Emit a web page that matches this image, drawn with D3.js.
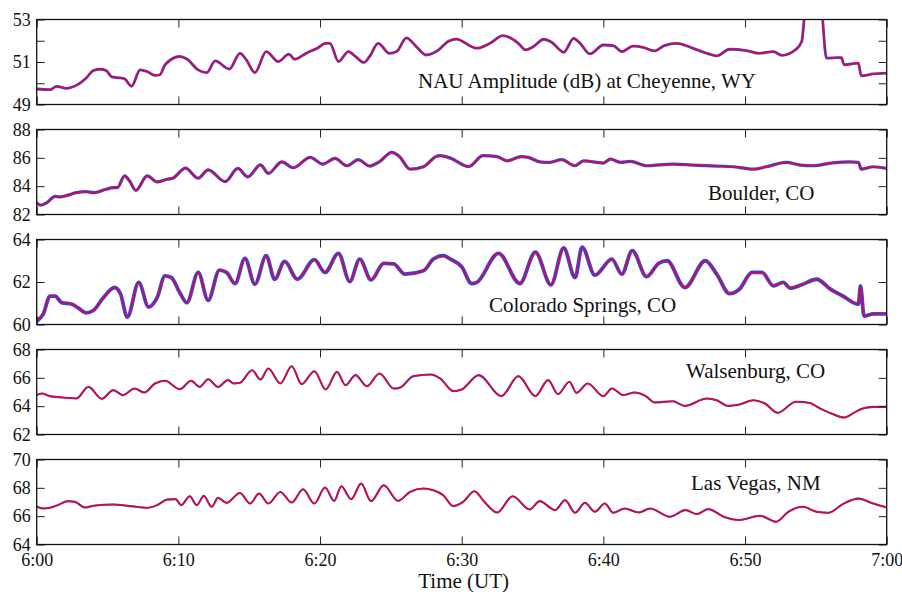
<!DOCTYPE html>
<html>
<head>
<meta charset="utf-8">
<script src="https://cdn.jsdelivr.net/npm/d3@7"></script>
<style>
  body { margin: 0; background: #ffffff; }
  svg { display: block; font-family: 'Liberation Serif', 'Times New Roman', serif; }
  .tick text { font-family: 'Liberation Serif', 'Times New Roman', serif; font-size: 18px; fill: #111; }
</style>
</head>
<body>
<div class="chart-wrapper"></div>
<script>
// minutes after 6:00 UT, amplitude in dB
const cheyenne = [[0,49.73],[0.94,49.70],[1.4,49.85],[2.1,49.76],[2.8,49.9],[3.5,50.25],[4.0,50.6],[4.5,50.66],[4.9,50.6],[5.3,50.3],[5.9,50.25],[6.2,50.21],[6.7,49.86],[7.3,50.63],[7.8,50.55],[8.35,50.37],[8.7,50.4],[9.06,50.87],[10.1,51.26],[10.6,51.14],[11.4,50.63],[12.0,50.5],[12.6,51.05],[13.6,50.67],[14.35,51.41],[14.8,51.1],[15.4,50.5],[16.2,51.49],[17.06,51.02],[17.8,51.37],[18.2,51.13],[19.1,51.44],[19.8,51.65],[20.4,51.88],[20.7,51.88],[21.3,51.02],[22.0,51.49],[22.5,51.26],[23.1,50.98],[23.5,51.26],[24.1,51.88],[24.9,51.41],[25.4,51.49],[26.1,52.14],[26.8,51.72],[27.5,51.33],[28.2,51.49],[29.1,51.99],[29.6,52.08],[31.05,51.65],[32.0,51.88],[32.9,52.24],[34.0,51.88],[34.5,51.57],[35.05,51.72],[35.8,52.07],[36.35,51.93],[37.2,51.46],[37.9,52.11],[38.35,51.88],[39.05,51.38],[40.0,51.8],[40.7,51.77],[41.3,51.49],[42.1,51.75],[42.8,51.69],[43.6,51.52],[44.3,51.77],[45.2,51.88],[46.3,51.65],[47.3,51.41],[48.0,51.29],[48.9,51.6],[50.1,51.54],[51.0,51.41],[52.0,51.49],[52.6,51.31],[53.6,51.6],[54.0,51.96],[54.35,54.0],[55.3,54.0],[55.75,51.18],[56.6,51.21],[56.8,51.2],[57.0,50.87],[58.0,50.95],[58.2,50.35],[59.05,50.44],[60,50.48]];

const boulder = [[0,82.83],[0.25,82.66],[0.7,82.83],[1.3,83.28],[1.65,83.24],[2.1,83.33],[2.8,83.54],[3.5,83.61],[4.0,83.54],[4.9,83.78],[5.4,83.9],[5.7,83.9],[6.2,84.73],[6.55,84.38],[7.0,83.7],[7.8,84.73],[8.5,84.3],[9.2,84.49],[9.6,84.56],[10.5,85.27],[11.4,84.56],[12.1,85.15],[13.3,84.32],[14.2,85.25],[14.9,84.66],[15.8,85.5],[16.35,84.9],[17.3,85.72],[18.1,85.3],[19.3,86.03],[20.2,85.56],[21.05,85.96],[21.9,85.44],[22.7,85.87],[23.5,85.42],[24.2,85.73],[25.06,86.39],[25.6,86.1],[26.35,85.2],[27.3,85.37],[28.2,86.1],[28.46,86.15],[29.2,85.98],[30.5,85.39],[31.5,86.15],[32.5,86.08],[33.2,85.79],[34.2,86.08],[34.7,86.03],[35.5,85.72],[36.2,85.68],[37.05,85.87],[38.0,85.44],[38.6,85.79],[40.0,85.63],[40.5,85.91],[41.2,85.68],[41.9,85.75],[43.05,85.44],[44.9,85.56],[46.3,85.49],[48.0,85.42],[49.2,85.37],[50.6,85.2],[51.5,85.37],[52.9,85.68],[53.9,85.49],[54.8,85.44],[56.2,85.65],[57.4,85.72],[58.0,85.68],[58.2,85.2],[59.05,85.37],[60,85.25]];

const coloradoSprings = [[0,60.16],[0.47,60.5],[0.94,61.34],[1.3,61.34],[1.76,61.03],[2.5,60.95],[2.9,60.79],[3.5,60.55],[4.0,60.66],[4.7,61.26],[5.5,61.74],[5.9,61.47],[6.4,60.35],[7.2,61.98],[7.9,60.82],[8.5,61.26],[9.06,62.29],[9.5,62.21],[10.1,61.5],[10.6,61.03],[11.4,62.45],[12.1,61.14],[12.9,62.56],[13.4,62.45],[14.0,61.93],[14.7,63.11],[15.4,61.9],[16.2,63.24],[16.8,62.13],[17.5,62.97],[18.4,62.13],[19.6,63.05],[20.35,62.45],[21.3,63.35],[22.1,62.02],[22.8,63.08],[23.6,62.1],[24.5,62.88],[25.2,62.85],[26.0,62.37],[27.3,62.53],[28.0,63.08],[28.7,63.24],[29.2,63.08],[30.0,62.72],[30.7,61.93],[31.05,61.98],[32.6,63.35],[34.1,61.93],[35.2,63.4],[36.3,61.87],[37.2,63.6],[38.0,62.21],[38.5,63.64],[39.4,62.32],[40.6,63.08],[41.3,62.37],[42.04,63.48],[43.05,62.25],[43.9,62.88],[44.5,63.0],[45.75,61.74],[47.2,63.0],[48.0,62.37],[48.9,61.45],[49.6,61.66],[50.5,62.45],[51.2,62.45],[52.0,61.82],[52.7,61.98],[53.2,61.71],[54.0,61.87],[55.05,62.13],[56.0,61.68],[56.9,61.34],[58.0,60.95],[58.15,61.82],[58.4,60.4],[59.05,60.5],[60,60.5]];

const walsenburg = [[0,64.78],[0.35,64.89],[0.94,64.71],[2.1,64.59],[2.8,64.54],[3.65,65.36],[4.6,64.52],[5.4,65.13],[6.1,64.78],[6.9,65.25],[7.6,64.96],[8.35,65.6],[9.06,65.79],[10.1,65.2],[10.9,65.79],[11.5,65.36],[12.1,65.9],[12.8,65.36],[13.5,65.84],[13.9,65.6],[14.35,65.65],[15.2,66.54],[15.8,65.88],[16.35,66.66],[17.2,65.6],[18.0,66.82],[18.7,65.55],[19.6,66.47],[20.4,65.18],[21.2,66.42],[21.8,65.48],[22.5,66.19],[23.3,65.41],[24.2,66.31],[25.2,65.25],[25.6,65.29],[26.6,66.12],[27.8,66.24],[28.5,65.95],[29.4,65.06],[30.0,65.18],[31.2,66.19],[32.8,64.71],[34.0,66.12],[35.2,64.71],[36.1,65.84],[36.8,64.85],[37.6,65.72],[38.1,64.94],[38.9,65.6],[40.0,64.71],[40.6,65.25],[41.4,64.78],[42.2,64.96],[43.05,64.67],[43.6,64.26],[44.9,64.35],[45.75,64.02],[47.3,64.54],[48.0,64.42],[48.8,64.02],[49.6,64.12],[50.6,64.42],[51.4,64.19],[52.3,63.53],[53.6,64.31],[54.5,64.24],[55.3,63.84],[56.1,63.48],[57.0,63.2],[57.8,63.6],[58.3,63.84],[59.05,63.95],[60,63.95]];

const lasVegas = [[0,66.66],[0.47,66.54],[0.94,66.59],[1.5,66.78],[2.2,67.06],[2.7,67.01],[3.4,66.61],[4.0,66.73],[5.4,66.82],[6.6,66.71],[7.8,66.59],[8.5,66.78],[9.2,67.17],[9.8,67.2],[10.2,66.78],[10.8,67.41],[11.3,66.78],[11.8,67.43],[12.35,66.66],[12.8,67.29],[13.4,66.94],[14.35,67.64],[15.06,66.89],[15.7,67.6],[16.35,66.89],[17.2,67.71],[18.0,66.96],[18.8,67.9],[19.6,66.89],[20.35,68.02],[21.0,67.08],[21.5,68.11],[22.2,67.2],[22.9,68.3],[23.6,67.06],[24.5,68.18],[25.5,67.08],[26.35,67.71],[27.3,67.95],[28.0,67.83],[28.7,67.48],[29.4,66.71],[30.1,67.01],[30.9,67.76],[31.6,67.01],[32.5,66.26],[33.6,67.41],[34.8,66.47],[35.5,67.06],[36.6,66.43],[37.3,67.13],[38.0,66.24],[38.7,66.94],[39.4,66.31],[40.1,66.89],[40.7,66.24],[41.5,66.54],[42.5,66.26],[43.3,66.54],[44.7,65.96],[45.8,66.43],[46.6,66.15],[47.4,66.5],[48.5,65.96],[49.6,65.73],[51.05,66.03],[52.2,65.61],[53.05,66.31],[54.1,66.66],[55.05,66.31],[55.9,66.24],[56.9,66.85],[58.0,67.24],[59.05,66.89],[60,66.61]];

const stationNames = ['NAU Amplitude (dB) at Cheyenne, WY', 'Boulder, CO', 'Colorado Springs, CO', 'Walsenburg, CO', 'Las Vegas, NM'];
const yDomains = [[49, 53], [82, 88], [60, 64], [62, 68], [64, 70]];
const yTicks = [[49, 50, 51, 52, 53], [82, 84, 86, 88], [60, 62, 64], [62, 64, 66, 68], [64, 66, 68, 70]];
const yTickLabels = [[49, 51, 53], [82, 84, 86, 88], [60, 62, 64], [62, 64, 66, 68], [64, 66, 68, 70]];
const xTicks = [0, 10, 20, 30, 40, 50, 60];
const xTickLabels = ['6:00', '6:10', '6:20', '6:30', '6:40', '6:50', '7:00'];

const series = [cheyenne, boulder, coloradoSprings, walsenburg, lasVegas];

// layout
const width = 902, height = 592;
const left = 36.7, right = 886.7;
const panelH = 85, panelTop = 19.5, panelStep = 110;
const labelPos = [[418, 87.5], [708, 199.5], [489, 311.5], [686, 377.5], [691, 489.5]];
const noiseWidth = [2.8, 3.2, 3.8, 2.1, 2.1];
const serif = "'Liberation Serif', 'Times New Roman', serif";

let x = d3.scaleLinear().domain([0, 60]).range([left, right]);

let svg = d3.select('.chart-wrapper').append('svg')
.attr('width', width)
.attr('height', height)

const styleAxis = a => {
	a.attr('font-family', serif).attr('font-size', 18)
	a.select('.domain').remove()
	a.selectAll('.tick line').attr('stroke', '#222')
	a.selectAll('.tick text').attr('fill', '#111')
}

series.forEach((data, i) => {

	let top = panelTop + i * panelStep;
	let y = d3.scaleLinear().domain(yDomains[i]).range([panelH, 0]);

	let g = svg.append('g')
	.attr('transform', `translate(0,${top})`)

	g.append('clipPath')
	.attr('id', 'clip' + i)
	.append('rect')
	.attr('x', left)
	.attr('y', 0)
	.attr('width', right - left)
	.attr('height', panelH)

	let line = d3.line()
	.x(d => x(d[0]))
	.y(d => y(d[1]))
	.curve(d3.curveMonotoneX)

	let lines = g.append('g').attr('clip-path', `url(#clip${i})`)

	lines.append('path')
	.datum(data)
	.attr('d', line)
	.attr('fill', 'none')
	.attr('stroke', '#1f4dff')
	.attr('stroke-width', noiseWidth[i])
	.attr('stroke-linejoin', 'round')

	lines.append('path')
	.datum(data)
	.attr('d', line)
	.attr('fill', 'none')
	.attr('stroke', '#f5001a')
	.attr('stroke-width', 1.5)
	.attr('stroke-linejoin', 'round')

	const isLast = i === series.length - 1;

	g.append('g')
	.attr('transform', `translate(0,${panelH})`)
	.call(d3.axisBottom(x).tickValues(xTicks).tickSize(-8).tickPadding(9)
		.tickFormat((d, k) => isLast ? xTickLabels[k] : ''))
	.call(styleAxis)

	g.append('g')
	.call(d3.axisTop(x).tickValues(xTicks).tickSize(-8).tickFormat(''))
	.call(styleAxis)

	g.append('g')
	.attr('transform', `translate(${left},0)`)
	.call(d3.axisLeft(y).tickValues(yTicks[i]).tickSize(-8).tickPadding(6)
		.tickFormat(d => yTickLabels[i].includes(d) ? d : ''))
	.call(styleAxis)

	g.append('g')
	.attr('transform', `translate(${right},0)`)
	.call(d3.axisRight(y).tickValues(yTicks[i]).tickSize(-8).tickFormat(''))
	.call(styleAxis)

	g.append('rect')
	.attr('x', left)
	.attr('y', 0)
	.attr('width', right - left)
	.attr('height', panelH)
	.attr('fill', 'none')
	.attr('stroke', '#111')
	.attr('stroke-width', 1.3)

	g.append('text')
	.attr('x', labelPos[i][0])
	.attr('y', labelPos[i][1] - top)
	.attr('font-size', 21)
	.attr('fill', '#111')
	.text(stationNames[i])
})

svg.append('text')
.attr('x', (left + right) / 2 + 2)
.attr('y', 588)
.attr('text-anchor', 'middle')
.attr('font-size', 21)
.attr('fill', '#111')
.text('Time (UT)')
</script>
</body>
</html>
